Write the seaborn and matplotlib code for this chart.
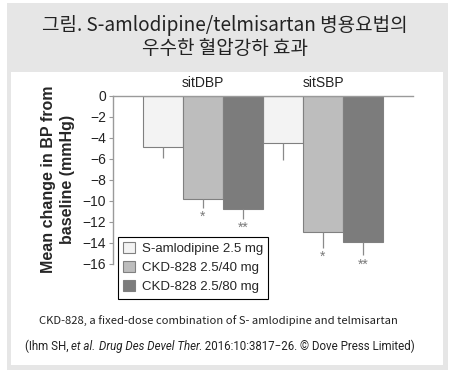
import pandas as pd
import seaborn as sns
import matplotlib.pyplot as plt
from matplotlib.patches import Rectangle

# Values (mean change from baseline, mmHg)
groups = ["sitDBP", "sitSBP"]
treatments = ["S-amlodipine 2.5 mg", "CKD-828 2.5/40 mg", "CKD-828 2.5/80 mg"]
amlo_mean = [-4.9, -4.5]
ckd40_mean = [-9.8, -12.95]
ckd80_mean = [-10.8, -13.9]
amlo_err = [1.05, 1.6]
ckd40_err = [0.85, 1.55]
ckd80_err = [0.9, 1.3]
amlo_sig = ["", ""]
ckd40_sig = ["*", "*"]
ckd80_sig = ["**", "**"]
yticks = [0, -2, -4, -6, -8, -10, -12, -14, -16]

bar_colors = ["#f3f3f3", "#bdbdbd", "#7c7c7c"]


def main() -> None:
    means = [amlo_mean, ckd40_mean, ckd80_mean]
    errs = [amlo_err, ckd40_err, ckd80_err]
    sigs = [amlo_sig, ckd40_sig, ckd80_sig]

    df = pd.DataFrame(
        [(g, t, m[j]) for t, m in zip(treatments, means) for j, g in enumerate(groups)],
        columns=["group", "treatment", "change"],
    )

    sns.set_style("white")
    plt.rcParams["font.family"] = ["Liberation Sans", "Noto Sans CJK KR", "DejaVu Sans"]

    fig = plt.figure(figsize=(4.5, 3.7), dpi=100, facecolor="white")
    # grey frame and white inner panel
    fig.add_artist(Rectangle((7 / 450, 0), 441 / 450, 367 / 370,
                             transform=fig.transFigure, facecolor="#e6e6e6",
                             edgecolor="none", zorder=-2))
    fig.add_artist(Rectangle((11 / 450, 5 / 370), 432 / 450, 293 / 370,
                             transform=fig.transFigure, facecolor="white",
                             edgecolor="none", zorder=-1))

    ax = fig.add_axes([113 / 450, 1 - 263.7 / 370, 300 / 450, 168 / 370])
    ax.set_facecolor("none")

    sns.barplot(data=df, x="group", y="change", hue="treatment",
                order=groups, hue_order=treatments, palette=bar_colors,
                width=1, errorbar=None, edgecolor="#808080", linewidth=0.8,
                saturation=1, ax=ax)

    # error bars (downward only) and significance marks
    for i, cont in enumerate(ax.containers):
        for j, bar in enumerate(cont):
            xc = bar.get_x() + bar.get_width() / 2
            y0 = bar.get_y() + bar.get_height()
            y1 = y0 - errs[i][j]
            ax.vlines(xc, y1, y0, color="#8a8a8a", linewidth=0.9, zorder=1)
            if sigs[i][j]:
                ax.annotate(sigs[i][j], (xc, y1), xytext=(0, -1.5),
                            textcoords="offset points", ha="center", va="top",
                            fontsize=10, color="#7a7a7a")

    for k, g in enumerate(groups):
        ax.text(k, 0.5, g, ha="center", va="bottom", fontsize=10, color="#222222")

    ax.set_xlim(-0.75, 1.75)
    ax.set_ylim(-16, 0)
    ax.set_yticks(yticks)
    ax.set_yticklabels([f"\u2212{abs(v)}" if v < 0 else "0" for v in yticks],
                       fontsize=10, color="#222222")
    ax.set_xticks([])
    ax.set_xlabel("")
    ax.set_ylabel("Mean change in BP from\nbaseline (mmHg)", fontsize=11.5,
                  fontweight="bold", labelpad=5, linespacing=1.4)
    ax.tick_params(axis="y", left=True, length=3, width=0.8, color="#999999", pad=2)
    for side in ["bottom", "right"]:
        ax.spines[side].set_visible(False)
    for side in ["top", "left"]:
        ax.spines[side].set_color("#9a9a9a")
        ax.spines[side].set_linewidth(1)

    ax.legend(loc="upper left", bbox_to_anchor=(118 / 450, 1 - 237 / 370),
              bbox_transform=fig.transFigure, fancybox=False, framealpha=1,
              edgecolor="black", borderaxespad=0, handlelength=0.9,
              handleheight=0.9, handletextpad=0.5, fontsize=9.5, borderpad=0.4,
              labelspacing=0.45).get_frame().set_linewidth(0.8)

    # title
    fig.text(0.5, 1 - 26 / 370, "그림. S-amlodipine/telmisartan 병용요법의",
             ha="center", va="center", fontsize=13.7, color="#222222",
             family=["Noto Sans CJK KR"])
    fig.text(0.5, 1 - 49 / 370, "우수한 혈압강하 효과",
             ha="center", va="center", fontsize=13.7, color="#222222",
             family=["Noto Sans CJK KR"])

    # captions
    fig.text(218 / 450, 1 - 321 / 370,
             "CKD-828, a fixed-dose combination of S- amlodipine and telmisartan",
             ha="center", va="center", fontsize=8.1, color="#222222",
             family=["Noto Sans CJK KR"])

    pieces = [("(Ihm SH, ", "normal"), ("et al.", "italic"), (" ", "normal"),
              ("Drug Des Devel Ther", "italic"),
              (". 2016:10:3817\u221226. \u00a9 Dove Press Limited)", "normal")]
    renderer = fig.canvas.get_renderer()
    texts, x = [], 0.0
    for s, style in pieces:
        t = fig.text(x, 1 - 350 / 370, s, ha="left", va="baseline", fontsize=8.3,
                     style=style, color="#222222", family=["Roboto", "DejaVu Sans"])
        x = t.get_window_extent(renderer).x1 / fig.bbox.width
        texts.append(t)
    shift = 220 / 450 - x / 2
    for t in texts:
        px, py = t.get_position()
        t.set_position((px + shift, py))

    fig.savefig("out.png", dpi=100, facecolor=fig.get_facecolor())


if __name__ == "__main__":
    main()
